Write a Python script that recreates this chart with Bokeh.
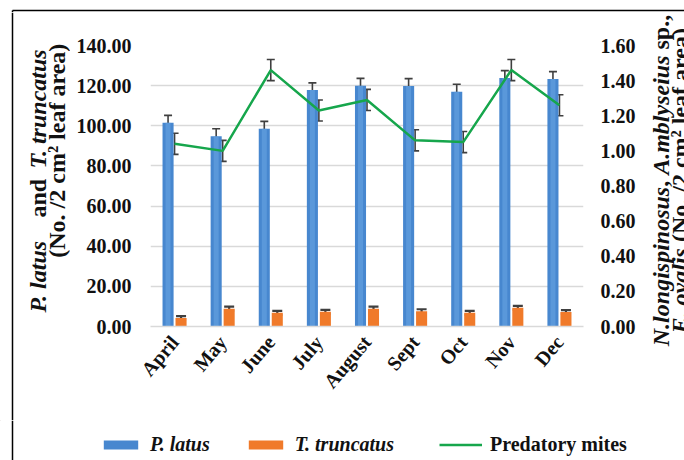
from math import pi

from bokeh.embed import file_html
from bokeh.layouts import column, row
from bokeh.models import (ColumnDataSource, FactorRange, FixedTicker, Label, Legend,
                          LegendItem, LinearAxis, NumeralTickFormatter, Range1d, Span,
                          TeeHead, Whisker)
from bokeh.plotting import figure
from bokeh.resources import INLINE
from bokeh.transform import dodge

# ---- data -----------------------------------------------------------------
months = ["April", "May", "June", "July", "August", "Sept", "Oct", "Nov", "Dec"]

p_latus = [101.5, 94.8, 98.5, 117.8, 119.9, 119.8, 117.0, 123.8, 123.3]
p_latus_err = [3.7, 3.7, 3.7, 3.6, 3.7, 3.7, 3.7, 3.7, 3.7]

t_truncatus = [4.2, 8.9, 6.8, 7.3, 8.9, 7.6, 6.8, 9.3, 7.2]
t_truncatus_err = [1.0, 1.0, 1.0, 1.0, 1.0, 1.0, 1.0, 1.0, 1.0]

predatory_mites = [1.04, 1.00, 1.46, 1.23, 1.29, 1.06, 1.05, 1.46, 1.26]
predatory_mites_err = [0.06, 0.06, 0.06, 0.06, 0.06, 0.06, 0.06, 0.06, 0.06]

left_ticks = [0, 20, 40, 60, 80, 100, 120, 140]
right_ticks = [0, 0.2, 0.4, 0.6, 0.8, 1.0, 1.2, 1.4, 1.6]

# ---- styling ----------------------------------------------------------------
FONT = "Liberation Serif"
BLUE = "#4787cf"
ORANGE = "#f07a2a"
GREEN = "#16a64c"
ERR = "#3f3f3f"
GRID = "#d9d9d9"
INK = "#111111"

# page: top strip / (left title | chart | right title) / legend strip
W, H = 684, 460
LEFT_W, RIGHT_W = 70, 44
TOP_H, LEGEND_H = 12, 40
MAIN_W = W - LEFT_W - RIGHT_W          # 570
MAIN_H = H - TOP_H - LEGEND_H          # 408

src = ColumnDataSource(dict(
    month=months,
    pl=p_latus,
    pl_lo=[v - e for v, e in zip(p_latus, p_latus_err)],
    pl_hi=[v + e for v, e in zip(p_latus, p_latus_err)],
    tt=t_truncatus,
    tt_lo=[v - e for v, e in zip(t_truncatus, t_truncatus_err)],
    tt_hi=[v + e for v, e in zip(t_truncatus, t_truncatus_err)],
    pm=predatory_mites,
    pm_lo=[v - e for v, e in zip(predatory_mites, predatory_mites_err)],
    pm_hi=[v + e for v, e in zip(predatory_mites, predatory_mites_err)],
))

# ---- main chart -------------------------------------------------------------
p = figure(width=MAIN_W, height=MAIN_H, x_range=FactorRange(*months, range_padding=0),
           y_range=Range1d(0, 140), output_backend="svg", toolbar_location=None,
           min_border_left=80, min_border_right=57,
           min_border_top=45 - TOP_H, min_border_bottom=94)
p.extra_y_ranges = {"mites": Range1d(0, 1.6)}
p.outline_line_color = None
p.background_fill_color = "white"
p.border_fill_color = "white"

OFF, BW = 0.135, 0.23
r_blue = p.vbar(x=dodge("month", -OFF, range=p.x_range), top="pl", width=BW,
                source=src, fill_color=BLUE, line_color=None)
# soft highlight down the middle of each blue bar
p.vbar(x=dodge("month", -OFF, range=p.x_range), top="pl", width=BW * 0.45,
       source=src, fill_color="#6aa6e3", fill_alpha=0.55, line_color=None)
r_orange = p.vbar(x=dodge("month", OFF, range=p.x_range), top="tt", width=BW,
                  source=src, fill_color=ORANGE, line_color=None)
r_line = p.line(x="month", y="pm", source=src, line_color=GREEN, line_width=2.5,
                y_range_name="mites")


def whisker(base, lo, hi, size, lw, **kw):
    w = Whisker(base=base, lower=lo, upper=hi, source=src, dimension="height",
                line_color=ERR, line_width=lw,
                lower_head=TeeHead(size=size, line_color=ERR, line_width=lw),
                upper_head=TeeHead(size=size, line_color=ERR, line_width=lw), **kw)
    p.add_layout(w)


whisker(dodge("month", -OFF, range=p.x_range), "pl_lo", "pl_hi", 8, 1.6)
whisker(dodge("month", OFF, range=p.x_range), "tt_lo", "tt_hi", 10, 2.2)
whisker("month", "pm_lo", "pm_hi", 8, 1.6, y_range_name="mites")


def style_axis(ax):
    ax.major_label_text_font = FONT
    ax.major_label_text_font_style = "bold"
    ax.major_label_text_font_size = "20px"
    ax.major_label_text_color = INK
    ax.major_tick_line_color = None
    ax.minor_tick_line_color = None
    ax.major_tick_out = 0
    ax.major_tick_in = 0


yl = p.yaxis[0]
style_axis(yl)
yl.ticker = FixedTicker(ticks=left_ticks)
yl.formatter = NumeralTickFormatter(format="0.00")
yl.axis_line_color = None
yl.major_label_standoff = 19

yr = LinearAxis(y_range_name="mites", ticker=FixedTicker(ticks=right_ticks),
                formatter=NumeralTickFormatter(format="0.00"))
style_axis(yr)
yr.axis_line_color = None
yr.major_label_standoff = 17
p.add_layout(yr, "right")

xa = p.xaxis[0]
style_axis(xa)
xa.axis_line_color = GRID
xa.axis_line_width = 1.6
xa.major_label_orientation = 0.87
xa.major_label_standoff = 12

p.xgrid.grid_line_color = None
p.ygrid.grid_line_color = GRID
p.ygrid.grid_line_width = 1.6
p.ygrid.ticker = FixedTicker(ticks=left_ticks)


# ---- helper strips, addressed in page pixels (y pointing down) -------------
def strip(w, h, x0, y0):
    f = figure(width=w, height=h, x_range=Range1d(x0, x0 + w),
               y_range=Range1d(y0 + h, y0), output_backend="svg",
               toolbar_location=None, x_axis_location=None, y_axis_location=None,
               min_border=0, min_border_left=0, min_border_right=0,
               min_border_top=0, min_border_bottom=0)
    f.outline_line_color = None
    f.xgrid.visible = False
    f.ygrid.visible = False
    f.background_fill_color = "white"
    f.border_fill_color = "white"
    return f


BORDER = dict(line_color="black", line_width=1.5)

# glyph advance widths (per 1000 em) used to lay out mixed-style title pieces
BOLD_W = {" ": 250, "(": 333, ")": 333, ",": 250, ".": 250, "/": 278, "2": 500,
          "²": 300, "a": 500, "c": 444, "d": 556, "e": 444, "f": 333, "l": 278,
          "m": 833, "n": 556, "o": 500, "p": 556, "r": 444, "s": 389, "N": 722}
ITAL_W = {" ": 250, ",": 250, ".": 250, "A": 667, "E": 667, "N": 722, "P": 611,
          "T": 611, "a": 500, "b": 500, "c": 444, "e": 444, "g": 500, "i": 278,
          "l": 278, "m": 778, "n": 556, "o": 500, "p": 500, "r": 389, "s": 389,
          "t": 278, "u": 556, "v": 444, "y": 444}


def seg_width(text, italic, size):
    table = ITAL_W if italic else BOLD_W
    return sum(table.get(c, 500) for c in text) * size / 1000.0


def put(f, text, italic, x, y, size):
    f.add_layout(Label(
        x=x, y=y, text=text, angle=pi / 2, text_align="left",
        text_baseline="middle", text_font=FONT, text_font_size=f"{size}px",
        text_font_style="bold italic" if italic else "bold", text_color=INK))


def vertical_title(f, segments, cx, cy, size):
    """One upward-reading line centred at (cx, cy); spaces become gaps."""
    total = sum(seg_width(t, it, size) for t, it in segments)
    y = cy + total / 2.0
    for text, italic in segments:
        lead = text[:len(text) - len(text.lstrip())]
        put(f, text.strip(), italic, cx, y - seg_width(lead, italic, size), size)
        y -= seg_width(text, italic, size)


TS = 24

top = strip(W, TOP_H, 0, 0)
top.segment(x0=[12], y0=[10], x1=[W + 10], y1=[10], **BORDER)
top.segment(x0=[12], y0=[10], x1=[12], y1=[TOP_H + 10], **BORDER)

left = strip(LEFT_W, MAIN_H, 0, TOP_H)
left.add_layout(Span(location=12, dimension="height", **BORDER))
put(left, "P. latus", True, 37, 312, TS)
put(left, "and", False, 37, 217, TS)
put(left, "T. truncatus", True, 37, 168, TS)
vertical_title(left, [("(No. /2 cm² leaf area)", False)], 56, 150, TS)

right = strip(RIGHT_W, MAIN_H, LEFT_W + MAIN_W, TOP_H)
vertical_title(right, [("N.longispinosus", True), (",", False), (" A.mblyseius", True),
                       (" sp.,", False)], 660, 180, TS)
vertical_title(right, [("E. ovalis", True), (" (No. /2 cm² leaf area)", False)],
               679, 180, TS)

# legend strip: italic species names, plain text for the mites
leg = strip(W, LEGEND_H, 0, H - LEGEND_H)
leg.add_layout(Span(location=12, dimension="height", **BORDER))
# off-screen stand-ins that give the legend its swatches
k_blue = leg.vbar(x=[-500], top=[-500], width=1, fill_color=BLUE, line_color=None)
k_orange = leg.vbar(x=[-500], top=[-500], width=1, fill_color=ORANGE, line_color=None)
k_line = leg.line(x=[-500, -499], y=[-500, -500], line_color=GREEN, line_width=2.5)


def make_legend(items, x0, style):
    lg = Legend(items=items, location=(x0, 4), orientation="horizontal",
                label_text_font=FONT, label_text_font_style=style,
                label_text_font_size="20px", label_text_color=INK,
                glyph_width=43, glyph_height=11, label_standoff=8, spacing=34,
                padding=0, margin=0, border_line_color=None,
                background_fill_alpha=0)
    leg.add_layout(lg)


make_legend([LegendItem(label="P. latus", renderers=[k_blue]),
             LegendItem(label="T. truncatus", renderers=[k_orange])], 99, "bold italic")
make_legend([LegendItem(label="Predatory mites", renderers=[k_line])], 439, "bold")

# the chart sits in its own column so the title strips keep their full height
page = column(top, row(left, column(p, spacing=0), right, spacing=0), leg, spacing=0)

open("out.html", "w").write(file_html(page, INLINE))
